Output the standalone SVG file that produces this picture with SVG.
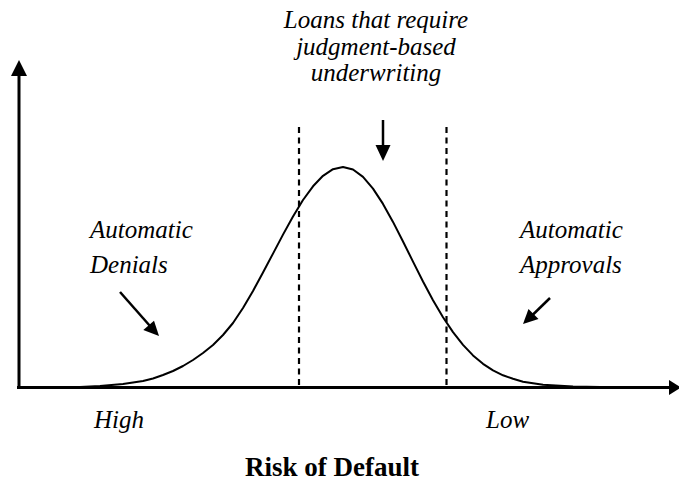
<svg xmlns="http://www.w3.org/2000/svg" width="679" height="482" viewBox="0 0 679 482">
<style>
.lbl{font-family:'Liberation Serif','DejaVu Serif','Times New Roman',serif;font-style:italic;font-size:25px;fill:#000}
.ttl{font-family:'Liberation Serif','DejaVu Serif','Times New Roman',serif;font-weight:bold;font-size:27px;fill:#000}
.ax{stroke:#000;stroke-width:3;fill:none}
.dash{stroke:#000;stroke-width:2.2;stroke-dasharray:6,4.5;fill:none}
.arr{stroke:#000;stroke-width:2.5;fill:none}
.head{fill:#000}
</style>
<rect width="679" height="482" fill="#fff"/>
<g id="axes">
<line class="ax" x1="19" y1="389" x2="19" y2="74"/>
<polygon class="head" points="19,60 11,76 27,76"/>
<line class="ax" x1="17" y1="387.5" x2="671" y2="387.5"/>
<polygon class="head" points="681,387.5 669,380 669,395"/>
</g>
<g id="curve">
<path fill="none" stroke="#000" stroke-width="2" stroke-linejoin="round" d="M80,387 L100,386 L123,384 L143,381 L153,378.5 L163,375 L173,371 L183,366 L193,360 L203,353 L213,345 L223,335 L233,323 L243,308 L253,291 L263,272.5 L273,253.6 L283,234.6 L293,216.5 L303,200 L313,186.3 L323,175.8 L333,169.2 L343,167 L353,169.5 L363,176.9 L373,188.6 L383,203.9 L393,221.9 L403,241.5 L413,261.6 L423,281.5 L433,300.2 L443,317.2 L453,332.1 L463,344.9 L473,355.4 L483,363.8 L493,370.4 L503,375.3 L513,378.8 L523,381.7 L543,384.8 L573,386.5 L600,387"/>
</g>
<g id="bounds">
<line class="dash" x1="299" y1="127" x2="299" y2="387"/>
<line class="dash" x1="446.5" y1="127" x2="446.5" y2="387"/>
</g>
<g id="connectors">
<line class="arr" x1="383" y1="120" x2="383" y2="148"/>
<polygon class="head" points="383,161 375.5,145 390.5,145"/>
<line class="arr" x1="120" y1="292" x2="150" y2="326"/>
<polygon class="head" points="159,336 143.3,330 154,320.7"/>
<line class="arr" x1="550" y1="298" x2="532" y2="315.5"/>
<polygon class="head" points="523,324 528.5,309 538.5,319"/>
</g>
<g id="label-judgment">
<text class="lbl" x="376" y="28" text-anchor="middle">Loans that require</text>
<text class="lbl" x="376" y="55" text-anchor="middle">judgment-based</text>
<text class="lbl" x="376" y="81" text-anchor="middle">underwriting</text>
</g>
<g id="label-denials">
<text class="lbl" x="90" y="238">Automatic</text>
<text class="lbl" x="90" y="273">Denials</text>
</g>
<g id="label-approvals">
<text class="lbl" x="520" y="238">Automatic</text>
<text class="lbl" x="520" y="273">Approvals</text>
</g>
<g id="label-high"><text class="lbl" x="94" y="428">High</text></g>
<g id="label-low"><text class="lbl" x="486" y="428">Low</text></g>
<g id="label-title"><text class="ttl" x="332" y="476" text-anchor="middle">Risk of Default</text></g>
</svg>
